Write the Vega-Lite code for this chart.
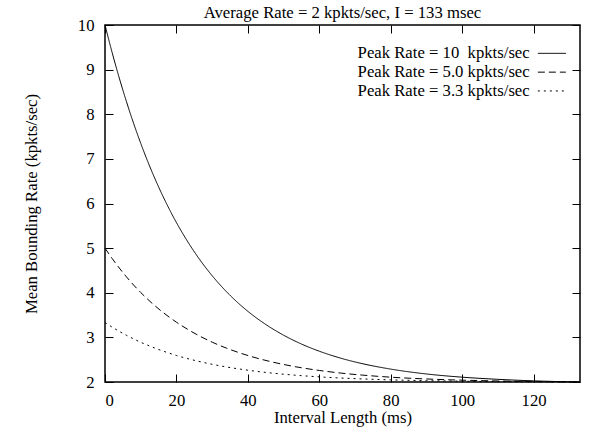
{
  "$schema": "https://vega.github.io/schema/vega-lite/v6.json",
  "width": 475,
  "height": 357,
  "autosize": {"type": "none"},
  "padding": {"left": 105, "top": 25, "right": 10, "bottom": 49},
  "background": "white",
  "config": {
    "view": {"stroke": "black", "strokeWidth": 1.5},
    "font": "Liberation Serif",
    "axis": {
      "grid": false,
      "domain": false,
      "tickColor": "black",
      "tickSize": -8,
      "tickWidth": 1,
      "labelFont": "Liberation Serif",
      "labelFontSize": 16.7,
      "labelColor": "black",
      "titleFont": "Liberation Serif",
      "titleFontSize": 16.7,
      "titleFontWeight": "normal",
      "titleColor": "black"
    }
  },
  "title": {
    "text": "Average Rate = 2 kpkts/sec, I = 133 msec",
    "font": "Liberation Serif",
    "fontSize": 16.7,
    "fontWeight": "normal",
    "color": "black",
    "anchor": "middle",
    "offset": -5
  },
  "data": {
    "values": [
      {"x": 0, "y": 10, "series": "Peak Rate = 10\u00a0 kpkts/sec"},
      {"x": 2, "y": 9.382, "series": "Peak Rate = 10\u00a0 kpkts/sec"},
      {"x": 4, "y": 8.811, "series": "Peak Rate = 10\u00a0 kpkts/sec"},
      {"x": 6, "y": 8.285, "series": "Peak Rate = 10\u00a0 kpkts/sec"},
      {"x": 8, "y": 7.798, "series": "Peak Rate = 10\u00a0 kpkts/sec"},
      {"x": 10, "y": 7.35, "series": "Peak Rate = 10\u00a0 kpkts/sec"},
      {"x": 12, "y": 6.935, "series": "Peak Rate = 10\u00a0 kpkts/sec"},
      {"x": 14, "y": 6.553, "series": "Peak Rate = 10\u00a0 kpkts/sec"},
      {"x": 16, "y": 6.2, "series": "Peak Rate = 10\u00a0 kpkts/sec"},
      {"x": 18, "y": 5.874, "series": "Peak Rate = 10\u00a0 kpkts/sec"},
      {"x": 20, "y": 5.573, "series": "Peak Rate = 10\u00a0 kpkts/sec"},
      {"x": 23, "y": 5.165, "series": "Peak Rate = 10\u00a0 kpkts/sec"},
      {"x": 26, "y": 4.802, "series": "Peak Rate = 10\u00a0 kpkts/sec"},
      {"x": 30, "y": 4.382, "series": "Peak Rate = 10\u00a0 kpkts/sec"},
      {"x": 34, "y": 4.025, "series": "Peak Rate = 10\u00a0 kpkts/sec"},
      {"x": 38, "y": 3.719, "series": "Peak Rate = 10\u00a0 kpkts/sec"},
      {"x": 42, "y": 3.459, "series": "Peak Rate = 10\u00a0 kpkts/sec"},
      {"x": 46, "y": 3.238, "series": "Peak Rate = 10\u00a0 kpkts/sec"},
      {"x": 50, "y": 3.049, "series": "Peak Rate = 10\u00a0 kpkts/sec"},
      {"x": 55, "y": 2.851, "series": "Peak Rate = 10\u00a0 kpkts/sec"},
      {"x": 60, "y": 2.69, "series": "Peak Rate = 10\u00a0 kpkts/sec"},
      {"x": 66, "y": 2.534, "series": "Peak Rate = 10\u00a0 kpkts/sec"},
      {"x": 72, "y": 2.412, "series": "Peak Rate = 10\u00a0 kpkts/sec"},
      {"x": 80, "y": 2.289, "series": "Peak Rate = 10\u00a0 kpkts/sec"},
      {"x": 90, "y": 2.18, "series": "Peak Rate = 10\u00a0 kpkts/sec"},
      {"x": 100, "y": 2.108, "series": "Peak Rate = 10\u00a0 kpkts/sec"},
      {"x": 110, "y": 2.06, "series": "Peak Rate = 10\u00a0 kpkts/sec"},
      {"x": 120, "y": 2.026, "series": "Peak Rate = 10\u00a0 kpkts/sec"},
      {"x": 133, "y": 2.0, "series": "Peak Rate = 10\u00a0 kpkts/sec"},
      {"x": 0, "y": 5, "series": "Peak Rate = 5.0 kpkts/sec"},
      {"x": 2, "y": 4.768, "series": "Peak Rate = 5.0 kpkts/sec"},
      {"x": 4, "y": 4.554, "series": "Peak Rate = 5.0 kpkts/sec"},
      {"x": 6, "y": 4.357, "series": "Peak Rate = 5.0 kpkts/sec"},
      {"x": 8, "y": 4.174, "series": "Peak Rate = 5.0 kpkts/sec"},
      {"x": 10, "y": 4.006, "series": "Peak Rate = 5.0 kpkts/sec"},
      {"x": 12, "y": 3.851, "series": "Peak Rate = 5.0 kpkts/sec"},
      {"x": 14, "y": 3.707, "series": "Peak Rate = 5.0 kpkts/sec"},
      {"x": 16, "y": 3.575, "series": "Peak Rate = 5.0 kpkts/sec"},
      {"x": 18, "y": 3.453, "series": "Peak Rate = 5.0 kpkts/sec"},
      {"x": 20, "y": 3.34, "series": "Peak Rate = 5.0 kpkts/sec"},
      {"x": 23, "y": 3.187, "series": "Peak Rate = 5.0 kpkts/sec"},
      {"x": 26, "y": 3.051, "series": "Peak Rate = 5.0 kpkts/sec"},
      {"x": 30, "y": 2.893, "series": "Peak Rate = 5.0 kpkts/sec"},
      {"x": 34, "y": 2.759, "series": "Peak Rate = 5.0 kpkts/sec"},
      {"x": 38, "y": 2.645, "series": "Peak Rate = 5.0 kpkts/sec"},
      {"x": 42, "y": 2.547, "series": "Peak Rate = 5.0 kpkts/sec"},
      {"x": 46, "y": 2.464, "series": "Peak Rate = 5.0 kpkts/sec"},
      {"x": 50, "y": 2.393, "series": "Peak Rate = 5.0 kpkts/sec"},
      {"x": 55, "y": 2.319, "series": "Peak Rate = 5.0 kpkts/sec"},
      {"x": 60, "y": 2.259, "series": "Peak Rate = 5.0 kpkts/sec"},
      {"x": 66, "y": 2.2, "series": "Peak Rate = 5.0 kpkts/sec"},
      {"x": 72, "y": 2.155, "series": "Peak Rate = 5.0 kpkts/sec"},
      {"x": 80, "y": 2.108, "series": "Peak Rate = 5.0 kpkts/sec"},
      {"x": 90, "y": 2.068, "series": "Peak Rate = 5.0 kpkts/sec"},
      {"x": 100, "y": 2.041, "series": "Peak Rate = 5.0 kpkts/sec"},
      {"x": 110, "y": 2.023, "series": "Peak Rate = 5.0 kpkts/sec"},
      {"x": 120, "y": 2.01, "series": "Peak Rate = 5.0 kpkts/sec"},
      {"x": 133, "y": 2.0, "series": "Peak Rate = 5.0 kpkts/sec"},
      {"x": 0, "y": 3.333, "series": "Peak Rate = 3.3 kpkts/sec"},
      {"x": 2, "y": 3.23, "series": "Peak Rate = 3.3 kpkts/sec"},
      {"x": 4, "y": 3.135, "series": "Peak Rate = 3.3 kpkts/sec"},
      {"x": 6, "y": 3.047, "series": "Peak Rate = 3.3 kpkts/sec"},
      {"x": 8, "y": 2.966, "series": "Peak Rate = 3.3 kpkts/sec"},
      {"x": 10, "y": 2.891, "series": "Peak Rate = 3.3 kpkts/sec"},
      {"x": 12, "y": 2.823, "series": "Peak Rate = 3.3 kpkts/sec"},
      {"x": 14, "y": 2.759, "series": "Peak Rate = 3.3 kpkts/sec"},
      {"x": 16, "y": 2.7, "series": "Peak Rate = 3.3 kpkts/sec"},
      {"x": 18, "y": 2.646, "series": "Peak Rate = 3.3 kpkts/sec"},
      {"x": 20, "y": 2.595, "series": "Peak Rate = 3.3 kpkts/sec"},
      {"x": 23, "y": 2.527, "series": "Peak Rate = 3.3 kpkts/sec"},
      {"x": 26, "y": 2.467, "series": "Peak Rate = 3.3 kpkts/sec"},
      {"x": 30, "y": 2.397, "series": "Peak Rate = 3.3 kpkts/sec"},
      {"x": 34, "y": 2.337, "series": "Peak Rate = 3.3 kpkts/sec"},
      {"x": 38, "y": 2.287, "series": "Peak Rate = 3.3 kpkts/sec"},
      {"x": 42, "y": 2.243, "series": "Peak Rate = 3.3 kpkts/sec"},
      {"x": 46, "y": 2.206, "series": "Peak Rate = 3.3 kpkts/sec"},
      {"x": 50, "y": 2.175, "series": "Peak Rate = 3.3 kpkts/sec"},
      {"x": 55, "y": 2.142, "series": "Peak Rate = 3.3 kpkts/sec"},
      {"x": 60, "y": 2.115, "series": "Peak Rate = 3.3 kpkts/sec"},
      {"x": 66, "y": 2.089, "series": "Peak Rate = 3.3 kpkts/sec"},
      {"x": 72, "y": 2.069, "series": "Peak Rate = 3.3 kpkts/sec"},
      {"x": 80, "y": 2.048, "series": "Peak Rate = 3.3 kpkts/sec"},
      {"x": 90, "y": 2.03, "series": "Peak Rate = 3.3 kpkts/sec"},
      {"x": 100, "y": 2.018, "series": "Peak Rate = 3.3 kpkts/sec"},
      {"x": 110, "y": 2.01, "series": "Peak Rate = 3.3 kpkts/sec"},
      {"x": 120, "y": 2.004, "series": "Peak Rate = 3.3 kpkts/sec"},
      {"x": 133, "y": 2.0, "series": "Peak Rate = 3.3 kpkts/sec"}
    ]
  },
  "layer": [
    {
      "mark": {"type": "line", "color": "black", "strokeWidth": 1, "interpolate": "monotone"},
      "encoding": {
        "x": {
          "field": "x", "type": "quantitative",
          "scale": {"domain": [0, 133], "nice": false, "zero": false},
          "axis": {"values": [0, 20, 40, 60, 80, 100, 120], "title": "Interval Length (ms)", "labelPadding": 18, "titlePadding": 1}
        },
        "y": {
          "field": "y", "type": "quantitative",
          "scale": {"domain": [2, 10], "nice": false, "zero": false},
          "axis": {"values": [2, 3, 4, 5, 6, 7, 8, 9, 10], "title": "Mean Bounding Rate (kpkts/sec)", "labelPadding": 19, "titlePadding": 37}
        },
        "strokeDash": {
          "field": "series", "type": "nominal",
          "scale": {
            "domain": ["Peak Rate = 10\u00a0 kpkts/sec", "Peak Rate = 5.0 kpkts/sec", "Peak Rate = 3.3 kpkts/sec"],
            "range": [[1, 0], [7, 4], [2, 4]]
          },
          "legend": {
            "orient": "none",
            "legendX": 438.5,
            "legendY": 20,
            "title": null,
            "padding": 0,
            "symbolType": "M-4,0H4",
            "symbolSize": 49,
            "symbolStrokeColor": "black",
            "symbolStrokeWidth": 1,
            "symbolOffset": 0,
            "labelAlign": "right",
            "labelBaseline": "middle",
            "labelOffset": -30.5,
            "labelLimit": 0,
            "labelFont": "Liberation Serif",
            "labelFontSize": 16.7,
            "labelColor": "black",
            "rowPadding": 0.8
          }
        }
      }
    },
    {
      "mark": {"type": "line", "strokeOpacity": 0},
      "encoding": {
        "x": {"field": "x", "type": "quantitative", "axis": {"orient": "top", "values": [0, 20, 40, 60, 80, 100, 120], "labels": false, "title": null}},
        "y": {"field": "y", "type": "quantitative", "axis": {"orient": "right", "values": [2, 3, 4, 5, 6, 7, 8, 9, 10], "labels": false, "title": null}},
        "detail": {"field": "series"}
      }
    }
  ],
  "resolve": {"axis": {"x": "independent", "y": "independent"}}
}
